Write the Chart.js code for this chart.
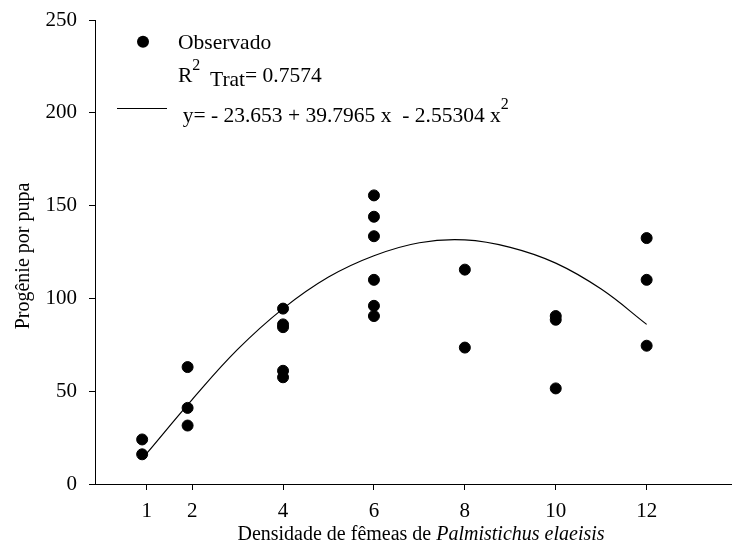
<!DOCTYPE html>
<html>
<head>
<meta charset="utf-8">
<script src="https://cdn.jsdelivr.net/npm/chart.js@4.4.1/dist/chart.umd.min.js"></script>
<style>
  html, body { margin: 0; padding: 0; background: #fff; }
</style>
</head>
<body>
<canvas id="grafico" width="732" height="545"></canvas>
<script>
// dados observados (densidade x progenie)
var densidade = [0.9, 0.9, 1.9, 1.9, 1.9, 4, 4, 4, 4, 4, 6, 6, 6, 6, 6, 6, 8, 8, 10, 10, 10, 12, 12, 12];
var progenie = [24, 16, 63, 41, 31.5, 94.5, 86, 84.5, 61, 57.5, 155.5, 144, 133.5, 110, 96, 90.5, 115.5, 73.5, 90.5, 88.5, 51.5, 132.5, 110, 74.5];

// curva ajustada
var curvaX = [1, 2, 3, 4, 5, 6, 7, 8, 9, 10, 11, 12];
var curvaY = [16.5, 45.5, 72.5, 94.5, 111.5, 123, 130, 131.5, 127.5, 119, 105, 86];

var ticksX = [1, 2, 4, 6, 8, 10, 12];
var ticksY = [0, 50, 100, 150, 200, 250];

var fonte = "'Liberation Serif', 'Times New Roman', serif";

var pontos = [];
for (var i = 0; i < densidade.length; i++) pontos.push({x: densidade[i], y: progenie[i]});
var curva = [];
for (var j = 0; j < curvaX.length; j++) curva.push({x: curvaX[j], y: curvaY[j]});

var textos = {
  id: 'textos',
  afterDraw: function(chart) {
    var c = chart.ctx;
    c.save();
    c.fillStyle = '#000';
    c.strokeStyle = '#000';
    c.textBaseline = 'alphabetic';
    c.textAlign = 'left';

    // legenda
    c.beginPath();
    c.arc(143, 41.7, 6, 0, Math.PI * 2);
    c.fill();
    c.font = '21.5px ' + fonte;
    c.fillText('Observado', 178, 48.5);

    c.fillText('R', 178, 82);
    var wR = c.measureText('R').width;
    c.font = '16px ' + fonte;
    c.fillText('2', 178 + wR, 70);
    c.font = '21.5px ' + fonte;
    c.fillText('Trat', 210, 86);
    var wT = c.measureText('Trat').width;
    c.fillText('= 0.7574', 210 + wT, 82);

    c.lineWidth = 1;
    c.beginPath();
    c.moveTo(117, 108.5);
    c.lineTo(167, 108.5);
    c.stroke();
    var eq = 'y= - 23.653 + 39.7965 x  - 2.55304 x';
    c.fillText(eq, 182.7, 121.7);
    var wE = c.measureText(eq).width;
    c.font = '16px ' + fonte;
    c.fillText('2', 182.7 + wE, 109);

    // titulo eixo x (parte em italico)
    c.font = '20px ' + fonte;
    var p1 = 'Densidade de fêmeas de ';
    var w1 = c.measureText(p1).width;
    c.font = 'italic 20px ' + fonte;
    var p2 = 'Palmistichus elaeisis';
    var w2 = c.measureText(p2).width;
    var x0 = 421 - (w1 + w2) / 2;
    c.font = '20px ' + fonte;
    c.fillText(p1, x0, 540);
    c.font = 'italic 20px ' + fonte;
    c.fillText(p2, x0 + w1, 540);

    // titulo eixo y
    c.translate(29, 256);
    c.rotate(-Math.PI / 2);
    c.textAlign = 'center';
    c.font = '20px ' + fonte;
    c.fillText('Progênie por pupa', 0, 0);
    c.restore();
  }
};

var ctx = document.getElementById('grafico');
var grafico = new Chart(ctx, {
  type: 'scatter',
  data: {
    datasets: [
      {
        label: 'Observado',
        data: pontos,
        backgroundColor: '#000',
        borderColor: '#000',
        pointRadius: 5.5,
        borderWidth: 1,
        order: 1
      },
      {
        label: 'Ajuste',
        data: curva,
        showLine: true,
        tension: 0.4,
        borderColor: '#000',
        borderWidth: 1.2,
        pointRadius: 0,
        fill: false,
        order: 2
      }
    ]
  },
  options: {
    responsive: false,
    animation: false,
    devicePixelRatio: 1,
    layout: { autoPadding: false, padding: { top: 20, right: 0, left: 0, bottom: 0 } },
    plugins: {
      legend: { display: false },
      tooltip: { enabled: false }
    },
    scales: {
      x: {
        type: 'linear',
        min: -0.1375,
        max: 13.878,
        afterBuildTicks: function(axis) {
          axis.ticks = ticksX.map(function(v) { return {value: v}; });
        },
        afterFit: function(axis) {
          axis.height = 61;
          axis.paddingLeft = 0;
          axis.paddingRight = 0;
        },
        grid: { drawOnChartArea: false, drawTicks: true, tickLength: 6, color: '#000' },
        border: { color: '#000', width: 1 },
        ticks: { color: '#000', font: { family: fonte, size: 21 }, padding: 9, maxRotation: 0, autoSkip: false }
      },
      y: {
        min: 0,
        max: 250,
        afterBuildTicks: function(axis) {
          axis.ticks = ticksY.map(function(v) { return {value: v}; });
        },
        afterFit: function(axis) {
          axis.width = 95;
          axis.paddingTop = 0;
          axis.paddingBottom = 0;
        },
        grid: { drawOnChartArea: false, drawTicks: true, tickLength: 6, color: '#000' },
        border: { color: '#000', width: 1 },
        ticks: { color: '#000', font: { family: fonte, size: 21 }, padding: 12 }
      }
    }
  },
  plugins: [textos]
});
</script>
</body>
</html>
